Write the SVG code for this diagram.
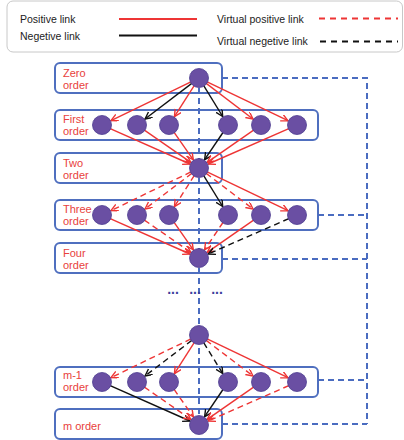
<svg xmlns="http://www.w3.org/2000/svg" width="404" height="440" viewBox="0 0 404 440">
  <style>
    .lg { font-family: "Liberation Sans", Arial, sans-serif; font-size: 10.5px; fill: #222; }
    .lbl { font-family: "Liberation Sans", Arial, sans-serif; font-size: 11px; fill: #e8413c; }
    .box { fill: #fff; stroke: #4f6fbf; stroke-width: 2; }
    .dot { fill: #6a4fa3; stroke: #4b3b8f; stroke-width: 0.8; }
    .bl { fill: none; stroke: #4a6cc0; stroke-width: 2; stroke-dasharray: 6 4; }
    .r { stroke: #ee3535; stroke-width: 1.4; fill: none; marker-end: url(#ar); }
    .k { stroke: #111; stroke-width: 1.4; fill: none; marker-end: url(#ak); }
    .d { stroke-dasharray: 6 4; }
    .etc { font-family: "Liberation Sans", Arial, sans-serif; font-size: 14px; font-weight: bold; fill: #3b3f9c; text-anchor: middle; }
  </style>
  <defs>
    <marker id="ar" markerUnits="userSpaceOnUse" markerWidth="10" markerHeight="10" refX="7" refY="3.5" orient="auto">
      <path d="M0,0 L7,3.5 L0,7" fill="none" stroke="#ee3535" stroke-width="1.4" stroke-dasharray="none"/>
    </marker>
    <marker id="ak" markerUnits="userSpaceOnUse" markerWidth="10" markerHeight="10" refX="7" refY="3.5" orient="auto">
      <path d="M0,0 L7,3.5 L0,7" fill="none" stroke="#111" stroke-width="1.4" stroke-dasharray="none"/>
    </marker>
  </defs>

  <!-- legend -->
  <g id="legend">
    <rect x="7" y="1" width="395.5" height="51" rx="6" fill="#fff" stroke="#c8c8c8" stroke-width="1"/>
    <text class="lg" x="20" y="23">Positive link</text>
    <text class="lg" x="20" y="39.5">Negetive link</text>
    <text class="lg" x="217" y="23">Virtual positive link</text>
    <text class="lg" x="217" y="44.5">Virtual negetive link</text>
    <line x1="119" y1="19" x2="197" y2="19" stroke="#ee3535" stroke-width="2"/>
    <line x1="119" y1="35.5" x2="197" y2="35.5" stroke="#111" stroke-width="2"/>
    <line x1="319" y1="18.5" x2="398" y2="18.5" stroke="#ee3535" stroke-width="2" stroke-dasharray="6 5"/>
    <line x1="320" y1="41.5" x2="398" y2="41.5" stroke="#111" stroke-width="2" stroke-dasharray="6 5"/>
  </g>

  <!-- order frames -->
  <g id="zero-order"><rect class="box" x="55" y="63" width="167" height="30" rx="5"/><text class="lbl" x="63" y="77">Zero</text><text class="lbl" x="63" y="89">order</text></g>
  <g id="first-order"><rect class="box" x="55" y="110" width="263" height="30" rx="5"/><text class="lbl" x="63" y="123">First</text><text class="lbl" x="63" y="135">order</text></g>
  <g id="two-order"><rect class="box" x="55" y="153" width="167" height="30" rx="5"/><text class="lbl" x="63" y="167">Two</text><text class="lbl" x="63" y="179">order</text></g>
  <g id="three-order"><rect class="box" x="55" y="200" width="263" height="30" rx="5"/><text class="lbl" x="63" y="213">Three</text><text class="lbl" x="63" y="225">order</text></g>
  <g id="four-order"><rect class="box" x="55" y="243" width="167" height="30" rx="5"/><text class="lbl" x="63" y="257">Four</text><text class="lbl" x="63" y="269">order</text></g>
  <g id="m1-order"><rect class="box" x="55" y="367" width="263" height="30" rx="5"/><text class="lbl" x="63" y="379">m-1</text><text class="lbl" x="63" y="391">order</text></g>
  <g id="m-order"><rect class="box" x="55" y="409" width="167" height="30" rx="5"/><text class="lbl" x="63" y="430">m order</text></g>

  <!-- connectors -->
  <g id="connectors">
    <!-- blue dashed guides -->
    <line class="bl" x1="199" y1="78" x2="199" y2="425"/>
    <path class="bl" d="M222,78 H367 V424 M318,215 H367 M222,259 H367 M318,380 H367 M222,424 H367"/>

    <!-- zero -> first -->
    <line class="r" x1="190.9" y1="81.9" x2="111" y2="120.6"/>
    <line class="k" x1="191.8" y1="83.4" x2="145" y2="119"/>
    <line class="r" x1="194.2" y1="85.6" x2="174.4" y2="116.6"/>
    <line class="k" x1="203.7" y1="85.7" x2="222.7" y2="116.5"/>
    <line class="r" x1="206.2" y1="83.4" x2="253" y2="119"/>
    <line class="r" x1="207.1" y1="81.9" x2="288" y2="120.7"/>

    <!-- first -> two -->
    <line class="r" x1="110.2" y1="128.6" x2="189.9" y2="164"/>
    <line class="r" x1="144.4" y1="130.1" x2="190.8" y2="162.3"/>
    <line class="r" x1="174.1" y1="132.4" x2="193.3" y2="159.8"/>
    <line class="k" x1="223" y1="132.5" x2="204.6" y2="159.7"/>
    <line class="r" x1="253.6" y1="130.1" x2="207.2" y2="162.3"/>
    <line class="r" x1="288.8" y1="128.6" x2="208.2" y2="164"/>

    <!-- two -> three -->
    <line class="r d" x1="190.9" y1="171.9" x2="111" y2="210.6"/>
    <line class="r d" x1="191.8" y1="173.4" x2="145" y2="209"/>
    <line class="r d" x1="194.2" y1="175.6" x2="174.4" y2="206.6"/>
    <line class="k" x1="203.7" y1="175.7" x2="222.7" y2="206.5"/>
    <line class="r d" x1="206.2" y1="173.4" x2="253" y2="209"/>
    <line class="r" x1="207.1" y1="171.9" x2="288" y2="210.7"/>

    <!-- three -> four -->
    <line class="r" x1="110.2" y1="218.6" x2="189.9" y2="254"/>
    <line class="r d" x1="144.4" y1="220.1" x2="190.8" y2="252.3"/>
    <line class="r" x1="174.1" y1="222.4" x2="193.3" y2="249.8"/>
    <line class="r d" x1="223" y1="222.5" x2="204.6" y2="249.7"/>
    <line class="r" x1="253.6" y1="220.1" x2="207.2" y2="252.3"/>
    <line class="k d" x1="288.8" y1="218.6" x2="208.2" y2="254"/>

    <!-- (m-2) -> m-1 -->
    <line class="r d" x1="190.9" y1="338.9" x2="111" y2="377.6"/>
    <line class="k d" x1="191.8" y1="340.4" x2="145" y2="376"/>
    <line class="r" x1="194.2" y1="342.6" x2="174.4" y2="373.6"/>
    <line class="k d" x1="203.7" y1="342.7" x2="222.7" y2="373.5"/>
    <line class="r d" x1="206.2" y1="340.4" x2="253" y2="376"/>
    <line class="r" x1="207.1" y1="338.9" x2="288" y2="377.7"/>

    <!-- m-1 -> m -->
    <line class="k" x1="110.2" y1="385.6" x2="189.9" y2="421"/>
    <line class="r d" x1="144.4" y1="387.1" x2="190.8" y2="419.3"/>
    <line class="r d" x1="174.1" y1="389.4" x2="193.3" y2="416.8"/>
    <line class="k" x1="223" y1="389.5" x2="204.6" y2="416.7"/>
    <line class="r" x1="253.6" y1="387.1" x2="207.2" y2="419.3"/>
    <line class="r d" x1="288.8" y1="385.6" x2="208.2" y2="421"/>
  </g>

  <!-- nodes -->
  <g id="n-zero"><circle class="dot" cx="199" cy="78" r="9.5"/></g>
  <g id="n-first">
    <circle class="dot" cx="102" cy="125" r="9.5"/><circle class="dot" cx="137" cy="125" r="9.5"/><circle class="dot" cx="169" cy="125" r="9.5"/>
    <circle class="dot" cx="228" cy="125" r="9.5"/><circle class="dot" cx="261" cy="125" r="9.5"/><circle class="dot" cx="297" cy="125" r="9.5"/>
  </g>
  <g id="n-two"><circle class="dot" cx="199" cy="168" r="9.5"/></g>
  <g id="n-three">
    <circle class="dot" cx="102" cy="215" r="9.5"/><circle class="dot" cx="137" cy="215" r="9.5"/><circle class="dot" cx="169" cy="215" r="9.5"/>
    <circle class="dot" cx="228" cy="215" r="9.5"/><circle class="dot" cx="261" cy="215" r="9.5"/><circle class="dot" cx="297" cy="215" r="9.5"/>
  </g>
  <g id="n-four"><circle class="dot" cx="199" cy="258" r="9.5"/></g>
  <g id="n-m2"><circle class="dot" cx="199" cy="335" r="9.5"/></g>
  <g id="n-m1">
    <circle class="dot" cx="102" cy="382" r="9.5"/><circle class="dot" cx="137" cy="382" r="9.5"/><circle class="dot" cx="169" cy="382" r="9.5"/>
    <circle class="dot" cx="228" cy="382" r="9.5"/><circle class="dot" cx="261" cy="382" r="9.5"/><circle class="dot" cx="297" cy="382" r="9.5"/>
  </g>
  <g id="n-m"><circle class="dot" cx="199" cy="425" r="9.5"/></g>

  <!-- ellipsis between levels -->
  <g id="ellipsis">
    <text class="etc" x="173" y="294">...</text>
    <text class="etc" x="195" y="294">...</text>
    <text class="etc" x="217" y="294">...</text>
  </g>
</svg>
